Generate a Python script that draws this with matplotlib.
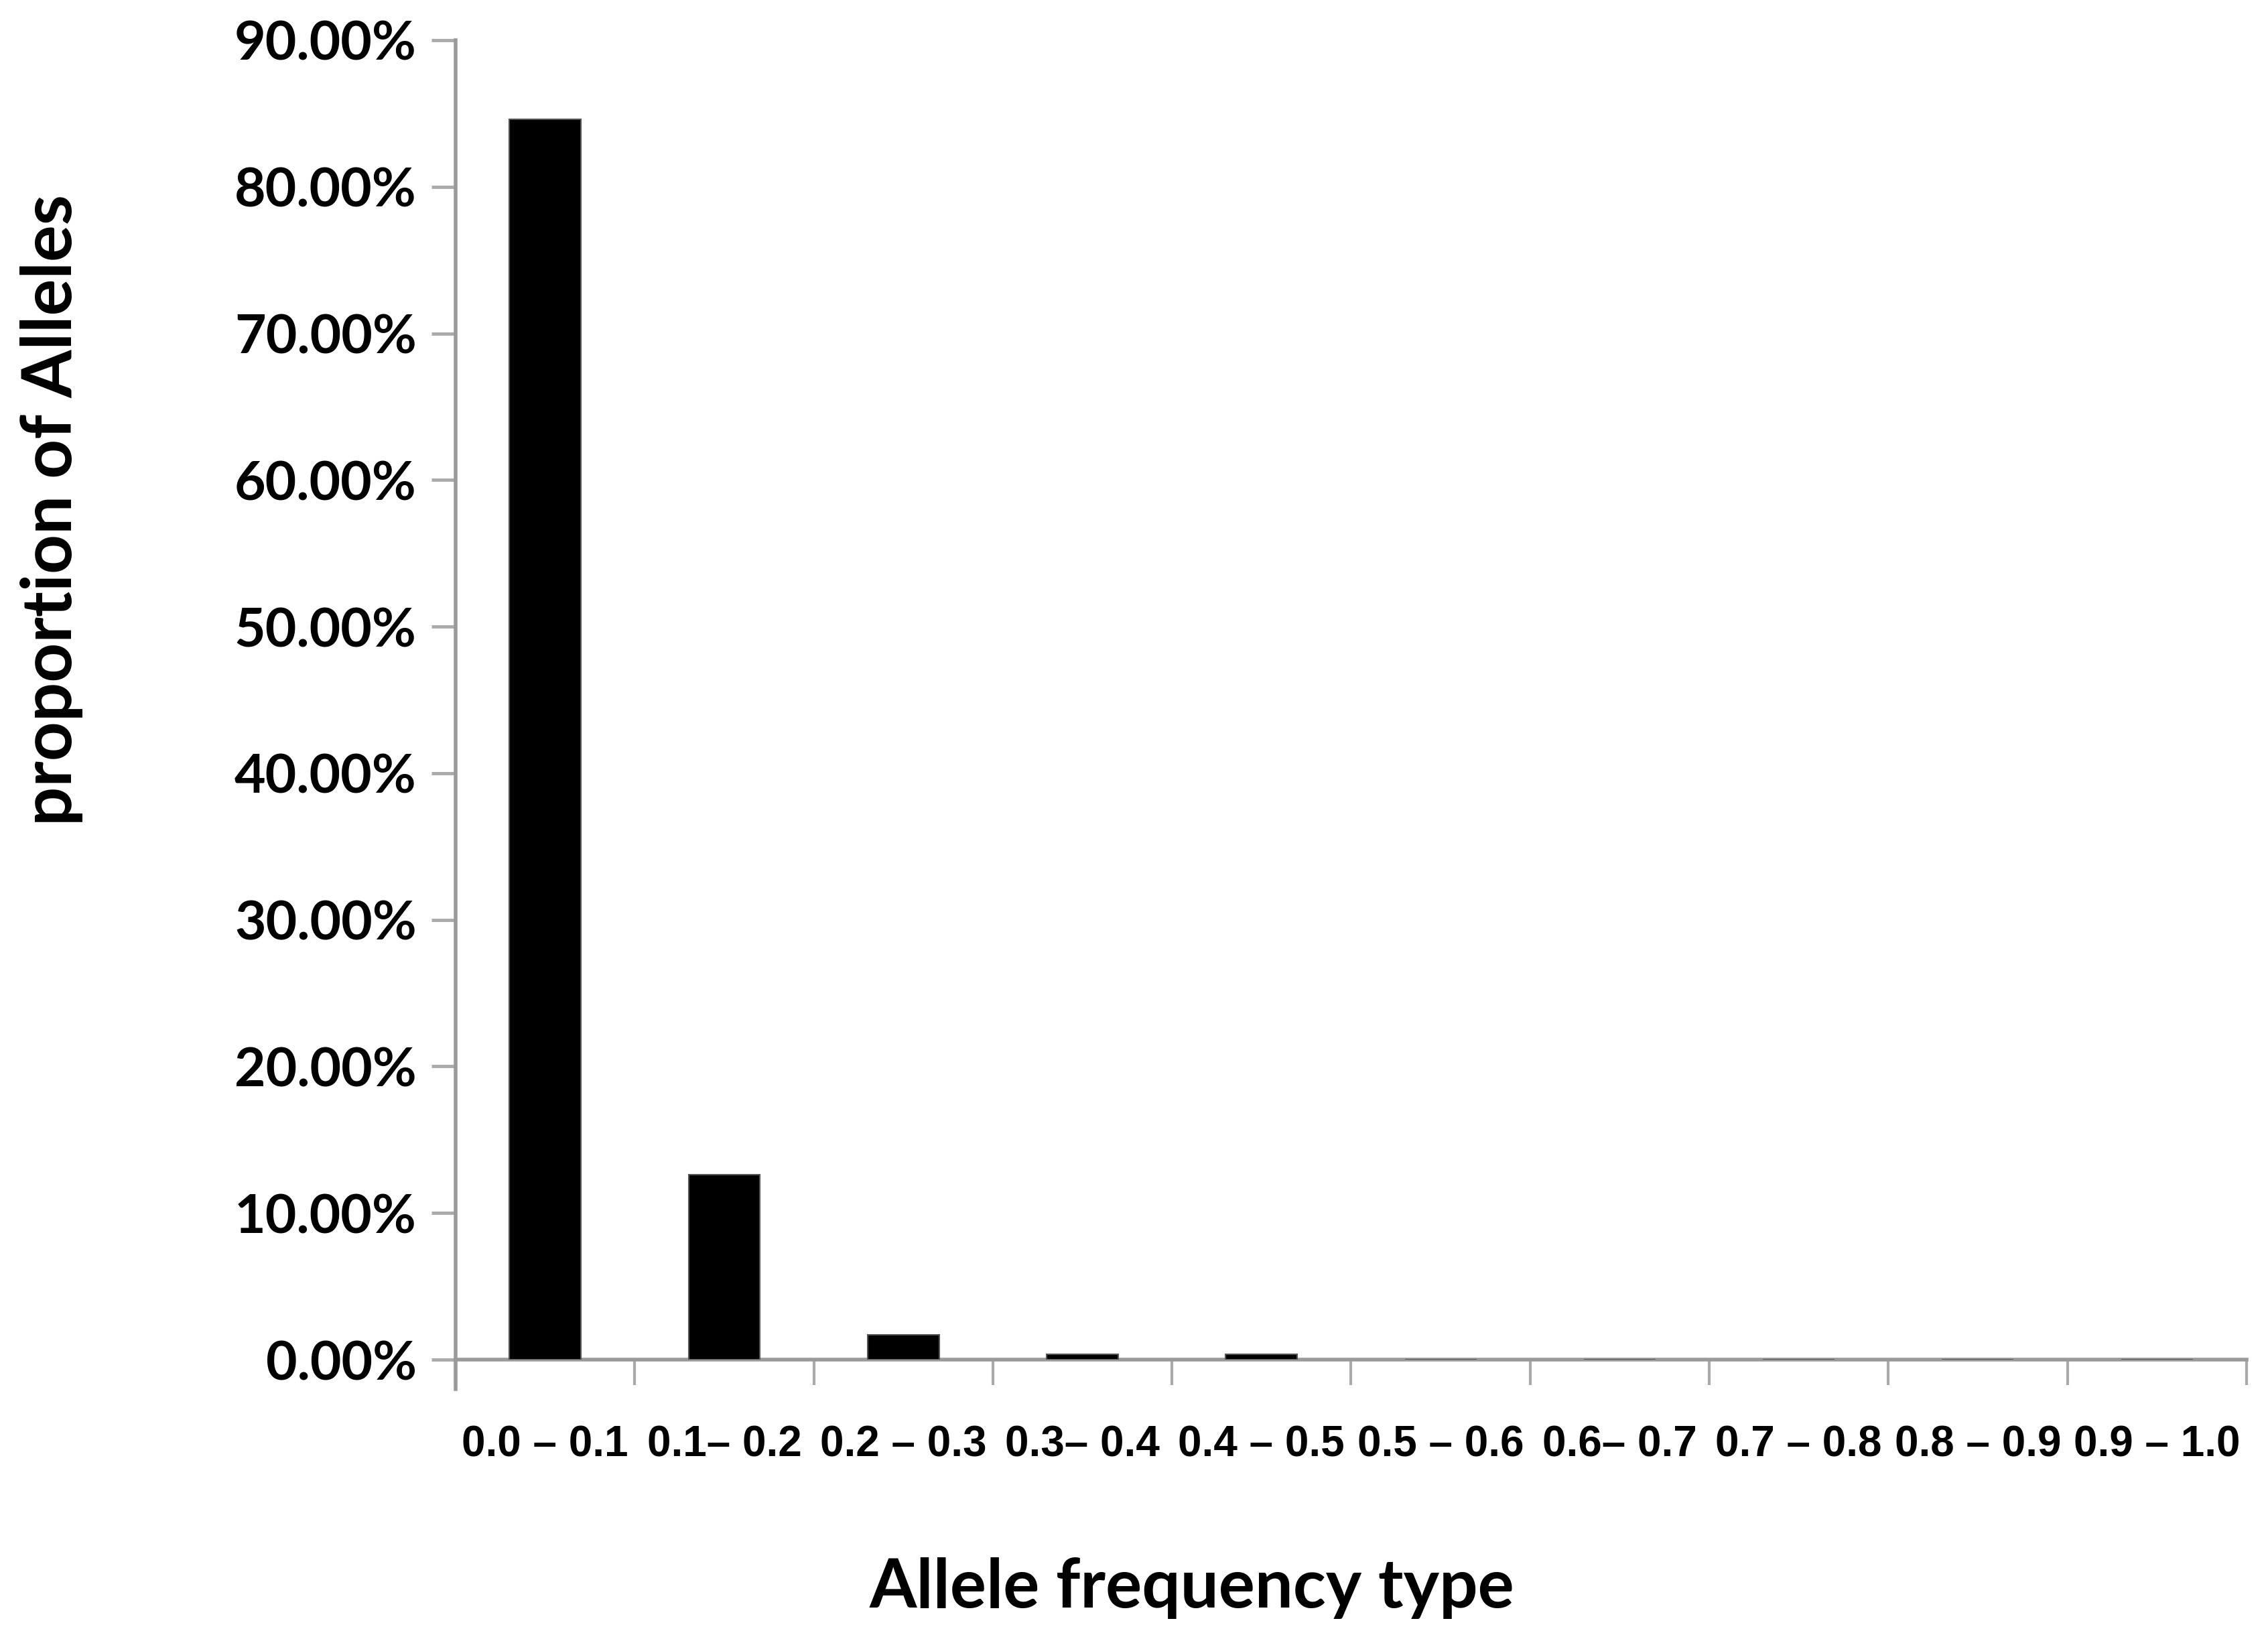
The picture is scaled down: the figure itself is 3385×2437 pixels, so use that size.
import numpy as np
import matplotlib
matplotlib.use('Agg')
import matplotlib.pyplot as plt
from matplotlib.ticker import FixedLocator, PercentFormatter

# data
categories = ['0.0 – 0.1', '0.1– 0.2', '0.2 – 0.3', '0.3– 0.4', '0.4 – 0.5',
              '0.5 – 0.6', '0.6– 0.7', '0.7 – 0.8', '0.8 – 0.9', '0.9 – 1.0']
proportions = [0.846, 0.126, 0.017, 0.0035, 0.0035, 0.0, 0.0, 0.0, 0.0, 0.0]
y_ticks = [0.0, 0.1, 0.2, 0.3, 0.4, 0.5, 0.6, 0.7, 0.8, 0.9]

axis_grey = '#9a9a9a'

fig = plt.figure(figsize=(33.85, 24.37), dpi=100)
ax = fig.add_axes([0.2009, 0.1674, 0.7896, 0.808])

x = np.arange(len(categories))
ax.bar(x, proportions, width=0.4, color='black', edgecolor='#555555', linewidth=1.5, zorder=3)

ax.set_xlim(-0.5, len(categories) - 0.5)
ax.set_ylim(0, 0.9)

# y axis
ax.yaxis.set_major_locator(FixedLocator(y_ticks))
ax.yaxis.set_major_formatter(PercentFormatter(1.0, decimals=2))
ax.tick_params(axis='y', which='major', length=26, width=3.5, color='#aaaaaa', pad=16,
               labelsize=58, direction='out')
for lbl in ax.get_yticklabels():
    lbl.set_fontfamily('Lato')
    lbl.set_fontweight('bold')

# x axis: ticks on category boundaries, labels at the centres
ax.xaxis.set_major_locator(FixedLocator(np.arange(len(categories) + 1) - 0.5))
ax.xaxis.set_major_formatter(plt.NullFormatter())
ax.xaxis.set_minor_locator(FixedLocator(x))
ax.set_xticklabels(categories, minor=True)
ax.tick_params(axis='x', which='major', length=27, width=3, color='#aaaaaa', direction='out')
ax.tick_params(axis='x', which='minor', length=0, pad=70, labelsize=46)
for lbl in ax.get_xticklabels(minor=True):
    lbl.set_fontfamily('Liberation Sans')
    lbl.set_fontweight('bold')

for side in ['top', 'right']:
    ax.spines[side].set_visible(False)
for side in ['left', 'bottom']:
    ax.spines[side].set_color(axis_grey)
    ax.spines[side].set_linewidth(4)
ax.spines['left'].set_bounds(-0.02, 0.9)

ax.set_ylabel('proportion of Alleles', fontsize=74, fontweight='bold', fontfamily='Lato')
ax.yaxis.set_label_coords(-0.208, 0.644)
ax.set_xlabel('Allele frequency type', fontsize=73, fontweight='bold', fontfamily='Lato')
ax.xaxis.set_label_coords(0.411, -0.150)

fig.savefig('out.png', dpi=100, facecolor='white')
